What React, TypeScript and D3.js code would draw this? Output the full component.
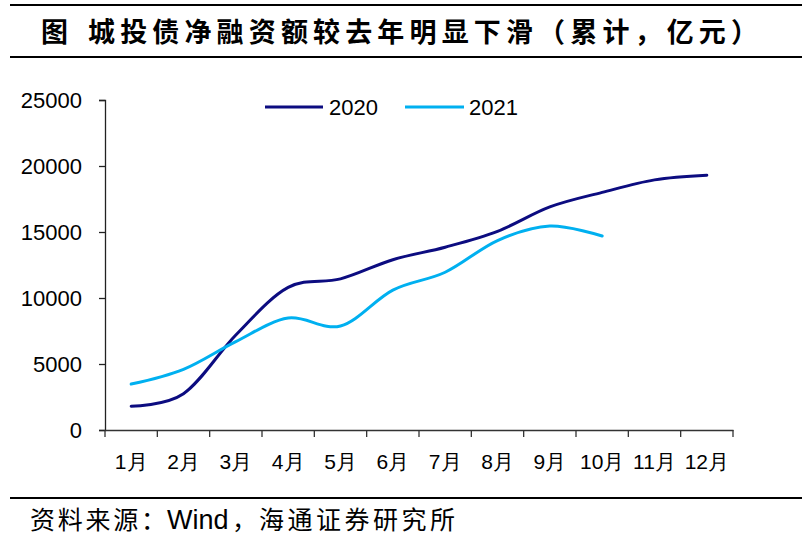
import React, { useRef, useEffect } from 'react'
import * as d3 from 'd3'

const months = ['1月', '2月', '3月', '4月', '5月', '6月', '7月', '8月', '9月', '10月', '11月', '12月']
const series2020 = [1800, 2750, 7200, 10800, 11450, 12900, 13850, 15050, 16900, 18000, 18950, 19300]
const series2021 = [3480, 4600, 6700, 8480, 7880, 10600, 11950, 14350, 15450, 14700]
const yTicks = [0, 5000, 10000, 15000, 20000, 25000]

const seriesList = [
  { name: '2020', values: series2020, color: '#0c0c80' },
  { name: '2021', values: series2021, color: '#00b0f0' },
]

const cjk = '"Noto Sans CJK SC", sans-serif'
const latin = '"Liberation Sans", Arial, sans-serif'

export default function App() {
  const svgRef = useRef<SVGSVGElement>(null)

  useEffect(() => {
    if (!svgRef.current) return
    const svg = d3.select(svgRef.current)
    svg.selectAll('*').remove()

    const width = 810
    const height = 540

    svg.append('rect').attr('width', width).attr('height', height).attr('fill', '#fff')

    // title block
    svg.append('line').attr('x1', 10).attr('x2', 802).attr('y1', 5).attr('y2', 5)
      .attr('stroke', '#000').attr('stroke-width', 2)
    svg.append('line').attr('x1', 10).attr('x2', 802).attr('y1', 57).attr('y2', 57)
      .attr('stroke', '#000').attr('stroke-width', 2)
    svg.append('text').attr('x', 41).attr('y', 42)
      .attr('font-family', cjk).attr('font-weight', 700).attr('font-size', 27)
      .text('图')
    svg.append('text').attr('x', 88).attr('y', 42)
      .attr('font-family', cjk).attr('font-weight', 700).attr('font-size', 27)
      .attr('textLength', 670).attr('lengthAdjust', 'spacing')
      .text('城投债净融资额较去年明显下滑（累计，亿元）')

    // scales
    const x = d3.scaleBand<string>().domain(months).range([105, 733])
    const y = d3.scaleLinear().domain([0, 25000]).range([430, 100])

    // y axis
    const yAxis = svg.append('g')
      .attr('transform', 'translate(105,0)')
      .call(d3.axisLeft(y).tickValues(yTicks).tickSize(6).tickPadding(17).tickFormat(d3.format('d')))
    yAxis.select('.domain').attr('stroke', '#222').attr('stroke-width', 1.3)
    yAxis.selectAll('.tick line').attr('stroke', '#222').attr('stroke-width', 1.3)
    yAxis.selectAll('.tick text')
      .attr('font-family', latin).attr('font-size', 22).attr('fill', '#000')

    // x axis
    const xAxis = svg.append('g')
      .attr('transform', 'translate(0,430)')
      .call(d3.axisBottom(x).tickSize(0).tickPadding(24))
    xAxis.select('.domain').attr('stroke', '#333').attr('stroke-width', 1.3)
    xAxis.selectAll('.tick text')
      .attr('font-family', latin).attr('font-size', 21).attr('fill', '#000')
    const bounds = months.map(m => x(m) as number).concat([733])
    svg.append('g').selectAll('line')
      .data(bounds)
      .enter().append('line')
      .attr('x1', d => d).attr('x2', d => d)
      .attr('y1', 430).attr('y2', 437)
      .attr('stroke', '#333').attr('stroke-width', 1.3)

    // smoothed lines, like Excel's
    const line = d3.line<number>()
      .x((_, i) => (x(months[i]) as number) + x.bandwidth() / 2)
      .y(d => y(d))
      .curve(d3.curveCardinal.tension(0))

    svg.append('g').selectAll('path')
      .data(seriesList)
      .enter().append('path')
      .attr('d', d => line(d.values))
      .attr('fill', 'none')
      .attr('stroke', d => d.color)
      .attr('stroke-width', 3)
      .attr('stroke-linecap', 'round')

    // legend
    const legendPos = [{ x1: 265, x2: 323, tx: 329 }, { x1: 405, x2: 464, tx: 469 }]
    const legend = svg.append('g')
    seriesList.forEach((s, i) => {
      const p = legendPos[i]
      legend.append('line').attr('x1', p.x1).attr('x2', p.x2).attr('y1', 107).attr('y2', 107)
        .attr('stroke', s.color).attr('stroke-width', 3)
      legend.append('text').attr('x', p.tx).attr('y', 115)
        .attr('font-family', latin).attr('font-size', 22).attr('fill', '#000')
        .text(s.name)
    })

    // source
    svg.append('line').attr('x1', 10).attr('x2', 802).attr('y1', 498).attr('y2', 498)
      .attr('stroke', '#000').attr('stroke-width', 2)
    const src = svg.append('g').attr('font-size', 25).attr('fill', '#000')
    src.append('text').attr('x', 30).attr('y', 529).attr('font-family', cjk)
      .attr('textLength', 136).attr('lengthAdjust', 'spacing').text('资料来源：')
    src.append('text').attr('x', 167).attr('y', 529).attr('font-family', latin).attr('font-size', 27)
      .text('Wind')
    src.append('text').attr('x', 232).attr('y', 529).attr('font-family', cjk).text('，')
    src.append('text').attr('x', 259).attr('y', 529).attr('font-family', cjk)
      .attr('textLength', 196).attr('lengthAdjust', 'spacing').text('海通证券研究所')
  }, [])

  return (
    <svg ref={svgRef} width={810} height={540}
      style={{ display: 'block', position: 'absolute', left: 0, top: 0 }} />
  )
}
